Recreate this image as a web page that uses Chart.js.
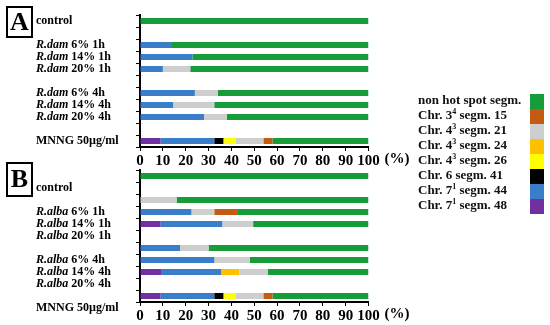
<!DOCTYPE html>
<html>
<head>
<meta charset="utf-8">
<script src="https://cdn.jsdelivr.net/npm/chart.js@4.4.1/dist/chart.umd.min.js"></script>
<style>
    body { margin: 0; background: #fff; }
    #page { position: relative; width: 550px; height: 325px; overflow: hidden; font-family: 'Liberation Serif', serif; }
    #page canvas { position: absolute; left: 0; }
    #chartA { top: 0; }
    #chartB { top: 155px; }
    #legend { position: absolute; left: 418px; top: 92px; font-weight: bold; font-size: 13px; color: #111; }
    #legend .row { position: relative; height: 15px; line-height: 15px; white-space: nowrap; }
    #legend sup { font-size: 8px; line-height: 0; vertical-align: 5px; }
    #legend .sw { position: absolute; left: 112px; top: 2px; width: 14px; height: 15px; }
</style>
</head>
<body>
<div id="page">
    <canvas id="chartA" width="550" height="172"></canvas>
    <canvas id="chartB" width="550" height="171"></canvas>
    <div id="legend"></div>
</div>
<script>
// Micronucleus FISH hot spot segments - stacked share per treatment (%)

// rows of each panel (blank entries are the spacer rows)
const rowsA = ['control', '', 'R.dam 6% 1h', 'R.dam 14% 1h', 'R.dam 20% 1h', '', 'R.dam 6% 4h', 'R.dam 14% 4h', 'R.dam 20% 4h', '', 'MNNG 50µg/ml'];
const rowsB = ['control', '', 'R.alba 6% 1h', 'R.alba 14% 1h', 'R.alba 20% 1h', '', 'R.alba 6% 4h', 'R.alba 14% 4h', 'R.alba 20% 4h', '', 'MNNG 50µg/ml'];

// segment names, in stacking order (left to right)
const segments = ['Chr. 7<sup>1</sup> segm. 48', 'Chr. 7<sup>1</sup> segm. 44', 'Chr. 6 segm. 41', 'Chr. 4<sup>3</sup> segm. 26',
    'Chr. 4<sup>3</sup> segm. 24', 'Chr. 4<sup>3</sup> segm. 21', 'Chr. 3<sup>4</sup> segm. 15', 'non hot spot segm.'];
const segColors = ['#7030a0', '#3a7dc8', '#000000', '#ffff00', '#ffc000', '#cecece', '#c55a11', '#179c3a'];

// panel A values (%)
const seg48A = [0, 0, 0, 0, 0, 0, 0, 0, 0, 0, 9];
const seg44A = [0, 0, 14, 23, 10, 0, 24, 14.5, 28, 0, 23.5];
const seg41A = [0, 0, 0, 0, 0, 0, 0, 0, 0, 0, 4];
const seg26A = [0, 0, 0, 0, 0, 0, 0, 0, 0, 0, 5.5];
const seg24A = [0, 0, 0, 0, 0, 0, 0, 0, 0, 0, 0];
const seg21A = [0, 0, 0, 0, 12, 0, 10, 18, 10, 0, 12];
const seg15A = [0, 0, 0, 0, 0, 0, 0, 0, 0, 0, 4];
const nonHotA = [100, 0, 86, 77, 78, 0, 66, 67.5, 62, 0, 42];

// panel B values (%)
const seg48B = [0, 0, 0, 0, 9, 0, 0, 0, 9.5, 0, 9];
const seg44B = [0, 0, 0, 22.5, 27, 0, 17.5, 32.5, 26, 0, 23.5];
const seg41B = [0, 0, 0, 0, 0, 0, 0, 0, 0, 0, 4];
const seg26B = [0, 0, 0, 0, 0, 0, 0, 0, 0, 0, 5.5];
const seg24B = [0, 0, 0, 0, 0, 0, 0, 0, 8, 0, 0];
const seg21B = [0, 0, 16, 10, 13.5, 0, 12.5, 15.5, 12.5, 0, 12];
const seg15B = [0, 0, 0, 10, 0, 0, 0, 0, 0, 0, 4];
const nonHotB = [100, 0, 84, 57.5, 50.5, 0, 70, 52, 44, 0, 42];

const xTicks = [0, 10, 20, 30, 40, 50, 60, 70, 80, 90, 100];

(function () {
    'use strict';

    const FONT = "'Liberation Serif', serif";

    // letter box, row labels and the (%) unit
    const panelDecor = {
        id: 'panelDecor',
        afterDraw(chart, args, opts) {
            const { ctx, chartArea } = chart;
            const n = chart.data.labels.length;
            const pitch = (chartArea.bottom - chartArea.top) / n;
            const [bx, by, bw, bh] = opts.box;
            ctx.save();
            ctx.strokeStyle = '#000';
            ctx.lineWidth = 2;
            ctx.strokeRect(bx, by, bw, bh);
            ctx.fillStyle = '#000';
            ctx.font = 'bold 26px ' + FONT;
            ctx.textAlign = 'center';
            ctx.textBaseline = 'middle';
            ctx.fillText(opts.letter, bx + bw / 2, by + bh / 2 + 1);

            ctx.textAlign = 'left';
            chart.data.labels.forEach((txt, i) => {
                if (!txt) return;
                const y = chartArea.top + (i + opts.shift + 0.5) * pitch;
                let x = 36;
                const m = txt.match(/^(R\.\w+)(.*)$/);
                if (m) {
                    ctx.font = 'italic bold 12px ' + FONT;
                    ctx.fillText(m[1], x, y);
                    x += ctx.measureText(m[1]).width;
                    txt = m[2];
                }
                ctx.font = 'bold 12px ' + FONT;
                ctx.fillText(txt, x, y);
            });

            ctx.font = 'bold 15px ' + FONT;
            ctx.textBaseline = 'top';
            ctx.fillText('(%)', chartArea.right + 16, chartArea.bottom + 5);
            ctx.restore();
        }
    };

    function makeChart(id, rows, series, decor, padding) {
        return new Chart(document.getElementById(id), {
            type: 'bar',
            data: {
                labels: rows,
                datasets: series.map((vals, i) => ({
                    label: segments[i],
                    data: vals,
                    backgroundColor: segColors[i],
                    borderWidth: 0,
                    categoryPercentage: 1,
                    barPercentage: 0.48
                }))
            },
            options: {
                indexAxis: 'y',
                responsive: false,
                animation: false,
                layout: { padding: padding },
                plugins: {
                    legend: { display: false },
                    tooltip: { enabled: false },
                    panelDecor: decor
                },
                scales: {
                    x: {
                        stacked: true,
                        min: 0,
                        max: 100,
                        afterBuildTicks: axis => { axis.ticks = xTicks.map(v => ({ value: v })); },
                        border: { color: '#000', width: 2 },
                        grid: { drawOnChartArea: false, color: '#000', tickLength: 4 },
                        ticks: { color: '#000', padding: 1, maxRotation: 0, autoSkip: false, font: { family: FONT, size: 15, weight: 'bold' } }
                    },
                    y: {
                        stacked: true,
                        border: { color: '#000', width: 2 },
                        grid: { drawOnChartArea: false, color: '#000', tickLength: 4, offset: true },
                        ticks: { display: false }
                    }
                }
            },
            plugins: [panelDecor]
        });
    }

    function buildLegend() {
        const box = document.getElementById('legend');
        // top row is the last stacked segment
        for (let i = segments.length - 1; i >= 0; i--) {
            const row = document.createElement('div');
            row.className = 'row';
            row.innerHTML = segments[i] + '<span class="sw" style="background:' + segColors[i] + '"></span>';
            box.appendChild(row);
        }
    }

    makeChart('chartA', rowsA,
        [seg48A, seg44A, seg41A, seg26A, seg24A, seg21A, seg15A, nonHotA],
        { letter: 'A', box: [7, 7, 25, 30], shift: 0 },
        { left: 136, right: 181.5, top: 15, bottom: 1 });

    makeChart('chartB', rowsB,
        [seg48B, seg44B, seg41B, seg26B, seg24B, seg21B, seg15B, nonHotB],
        { letter: 'B', box: [7, 8, 25, 33], shift: 1 },
        { left: 136, right: 181.5, top: 15, bottom: 0 });

    buildLegend();
})();
</script>
</body>
</html>
